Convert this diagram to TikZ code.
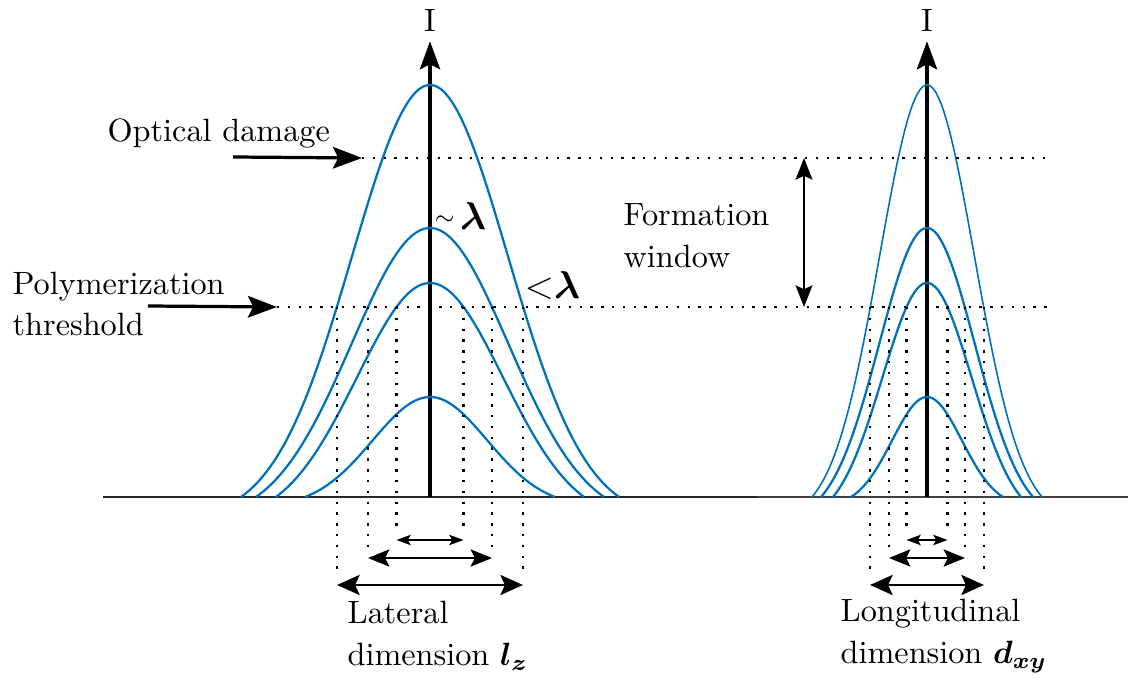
\documentclass[tikz,border=0pt]{standalone}
\usepackage{amsmath,amssymb,bm}
\usepackage{tikz}
\usetikzlibrary{arrows.meta,positioning}
\definecolor{pulseblue}{RGB}{0,114,189}
% pulse: centre, half width, height, 2 sigma^2, style
\newcommand{\pulse}[5]{%
  \draw[#5] plot[domain=-1:1,samples=90]
    ({#1+#2*\x},{497-#3*(exp(-((\x)*(\x))/#4)-exp(-1/#4))/(1-exp(-1/#4))});}

\begin{document}
\begin{tikzpicture}[x=0.31pt,y=-0.31pt,
  axis/.style={line width=1pt,-{Stealth[length=8.7pt,width=6.3pt,inset=1.6pt]}},
  baseln/.style={line width=0.9pt,black!85},
  curve/.style={pulseblue,line width=0.7pt},
  dots/.style={line width=0.75pt,dash pattern=on 0.75pt off 2.6pt},
  pointer/.style={line width=1pt,-{Stealth[length=9pt,width=6.7pt,inset=1.6pt]}},
  winarr/.style={line width=0.6pt,{Stealth[length=6.7pt,width=5.2pt,inset=1.2pt]}-{Stealth[length=6.7pt,width=5.2pt,inset=1.2pt]}},
  dimbig/.style={line width=0.9pt,{Stealth[length=7pt,width=6.2pt,inset=1.4pt]}-{Stealth[length=7pt,width=6.2pt,inset=1.4pt]}},
  dimmid/.style={line width=0.8pt,{Stealth[length=6.6pt,width=5.3pt,inset=1.3pt]}-{Stealth[length=6.6pt,width=5.3pt,inset=1.3pt]}},
  dimsmall/.style={line width=0.6pt,{Stealth[length=4.4pt,width=3.2pt,inset=0.9pt]}-{Stealth[length=4.4pt,width=3.2pt,inset=0.9pt]}},
  lbl/.style={font=\fontsize{10}{13}\selectfont,align=left,inner sep=0pt}]
\useasboundingbox (0,0) rectangle (1138,678);
%% -- base line and intensity axes ------------------------------------------
\coordinate (bl) at (103,497);
\coordinate (bm) at (757,497);
\coordinate (br) at (1128,497);
\draw[baseln] (bl) -- (bm);
\draw[baseln,black!75,line width=0.75pt] (bm) -- (br);
\coordinate (lo) at (430,497);
\coordinate (ro) at (927,497);
\node[lbl] (lI) at (430,20) {I};
\node[lbl] (rI) at (927,20) {I};
\draw[axis,shorten >=3pt] (lo) -- (lI);
\draw[axis,shorten >=3pt] (ro) -- (rI);
%% -- pulses (lateral left, longitudinal right) -----------------------------
\pulse{430}{189}{412}{0.34}{curve}
\pulse{430}{174}{269}{0.405}{curve}
\pulse{430}{154}{214}{0.45}{curve}
\pulse{430}{125}{100}{0.42}{curve}
\pulse{927}{115}{412}{0.34}{curve,line width=0.5pt}
\pulse{927}{106}{269}{0.405}{curve}
\pulse{927}{94}{214}{0.45}{curve}
\pulse{927}{76}{100}{0.42}{curve}
%% -- damage and threshold levels -------------------------------------------
\node[lbl,anchor=west] (damage) at (107,133) {Optical damage};
\node[lbl,anchor=west] (poly) at (12,304) {Polymerization\\threshold};
\coordinate (dmgS) at (233,157);
\coordinate (dmgT) at (362,158);
\coordinate (dmgE) at (1050,158);
\coordinate (thrS) at (148,306);
\coordinate (thrT) at (277,307);
\coordinate (thrE) at (1048,307);
\draw[pointer] (dmgS) -- (dmgT);
\draw[pointer] (thrS) -- (thrT);
\draw[dots] (dmgT) -- (dmgE);
\draw[dots] (thrT) -- (thrE);
%% -- formation window --------------------------------------------------------
\coordinate (winT) at (804,158);
\coordinate (winB) at (804,307);
\draw[winarr] (winT) -- (winB);
\node[lbl,anchor=west] (window) at (623,236) {Formation\\window};
\node[lbl,anchor=west] (approx) at (434,216)
  {\raisebox{1.6pt}{$\scriptstyle\sim$}\,\fontsize{12}{13}\selectfont$\bm{\lambda}$};
\node[lbl,anchor=west] (below) at (524,286) {\fontsize{12}{13}\selectfont${<}\bm{\lambda}$};
%% -- lateral dimension -------------------------------------------------------
\coordinate (lzA) at (337,307);   \coordinate (lzAb) at (337,585);
\coordinate (lzB) at (368,307);   \coordinate (lzBb) at (368,558);
\coordinate (lzC) at (396.5,307); \coordinate (lzCb) at (396.5,540);
\coordinate (lzD) at (463.5,307); \coordinate (lzDb) at (463.5,540);
\coordinate (lzE) at (492,307);   \coordinate (lzEb) at (492,558);
\coordinate (lzF) at (523,307);   \coordinate (lzFb) at (523,585);
\draw[dots,shorten >=2.5pt] (lzA) -- (lzAb);
\draw[dots,shorten >=2pt] (lzB) -- (lzBb);
\draw[dots,shorten >=2pt] (lzC) -- (lzCb);
\draw[dots,shorten >=2pt] (lzD) -- (lzDb);
\draw[dots,shorten >=2pt] (lzE) -- (lzEb);
\draw[dots,shorten >=2.5pt] (lzF) -- (lzFb);
\draw[dimsmall] (lzCb) -- (lzDb);
\draw[dimmid] (lzBb) -- (lzEb);
\draw[dimbig] (lzAb) -- (lzFb);
\node[lbl,anchor=west] (lateral) at (347,636) {Lateral\\dimension $\bm{l_z}$};
%% -- longitudinal dimension --------------------------------------------------
\coordinate (dxA) at (870,307);   \coordinate (dxAb) at (870,585);
\coordinate (dxB) at (889,307);   \coordinate (dxBb) at (889,558);
\coordinate (dxC) at (906.5,307); \coordinate (dxCb) at (906.5,540);
\coordinate (dxD) at (947.5,307); \coordinate (dxDb) at (947.5,540);
\coordinate (dxE) at (965,307);   \coordinate (dxEb) at (965,558);
\coordinate (dxF) at (984,307);   \coordinate (dxFb) at (984,585);
\draw[dots,shorten >=2.5pt] (dxA) -- (dxAb);
\draw[dots,shorten >=2pt] (dxB) -- (dxBb);
\draw[dots,shorten >=2pt] (dxC) -- (dxCb);
\draw[dots,shorten >=2pt] (dxD) -- (dxDb);
\draw[dots,shorten >=2pt] (dxE) -- (dxEb);
\draw[dots,shorten >=2.5pt] (dxF) -- (dxFb);
\draw[dimsmall] (dxCb) -- (dxDb);
\draw[dimmid] (dxBb) -- (dxEb);
\draw[dimbig] (dxAb) -- (dxFb);
\node[lbl,anchor=west] (longit) at (840,636) {Longitudinal\\dimension $\bm{d_{xy}}$};
\end{tikzpicture}
\end{document}
